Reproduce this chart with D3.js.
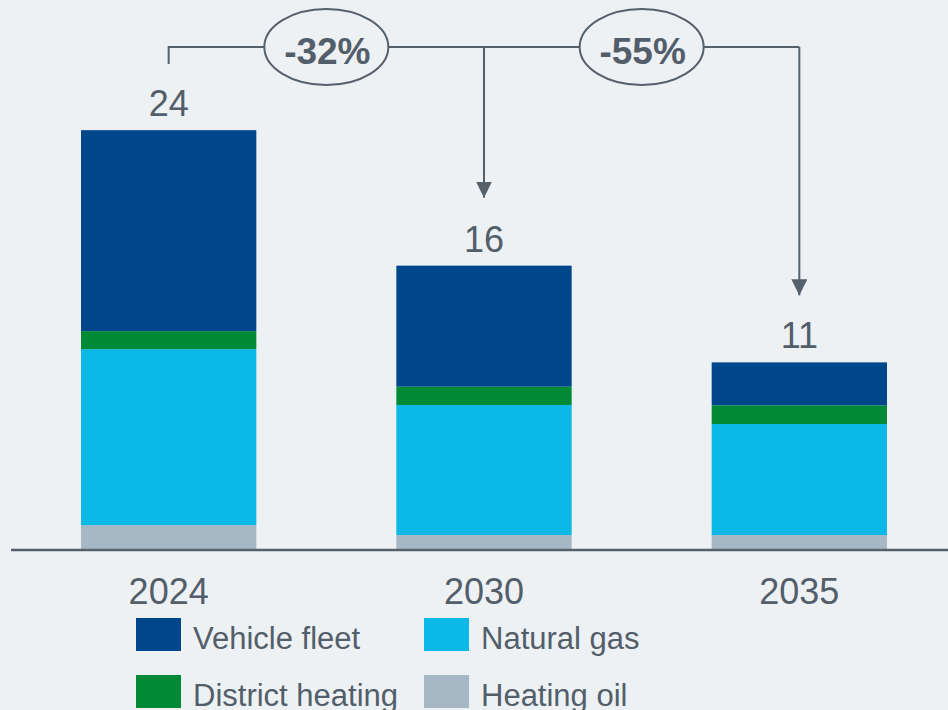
<!DOCTYPE html>
<html>
<head>
<meta charset="utf-8">
<script src="https://cdn.jsdelivr.net/npm/d3@7"></script>
<style>
  html, body { margin: 0; padding: 0; background: #edf1f4; }
  svg { display: block; font-family: "Liberation Sans", Arial, sans-serif; }
</style>
</head>
<body>
<div id="chart"></div>
<script>
// data
const years = ['2024', '2030', '2035'];
const series = ['Heating oil', 'Natural gas', 'District heating', 'Vehicle fleet'];
const heatingOil = [1.37, 0.80, 0.80];
const naturalGas = [10.08, 7.45, 6.36];
const districtHeating = [1.03, 1.05, 1.07];
const vehicleFleet = [11.51, 6.93, 2.46];
const totalLabels = ['24', '16', '11'];
const changeLabels = ['-32%', '-55%'];
const legendOrder = ['Vehicle fleet', 'Natural gas', 'District heating', 'Heating oil'];

const colors = {
    'Vehicle fleet': '#00468b',
    'District heating': '#008a35',
    'Natural gas': '#0cb9e6',
    'Heating oil': '#a7b8c5'
};
const textColor = '#525e6a';
const lineColor = '#56606b';

const width = 948, height = 710;

const svg = d3.select('#chart').append('svg')
    .attr('width', width)
    .attr('height', height);

svg.append('rect').attr('width', width).attr('height', height).attr('fill', '#edf1f4');

const x = d3.scaleBand()
    .domain(years)
    .range([81, 887])
    .paddingInner(0.444)
    .paddingOuter(0);

const y = d3.scaleLinear()
    .domain([0, 24])
    .range([549, 130]);

// stack table
const table = years.map((yr, i) => ({
    year: yr,
    'Heating oil': heatingOil[i],
    'Natural gas': naturalGas[i],
    'District heating': districtHeating[i],
    'Vehicle fleet': vehicleFleet[i]
}));
const stacked = d3.stack().keys(series)(table);

svg.append('g').selectAll('g')
    .data(stacked)
    .join('g')
    .attr('fill', d => colors[d.key])
    .selectAll('rect')
    .data(d => d)
    .join('rect')
    .attr('x', d => x(d.data.year))
    .attr('width', x.bandwidth())
    .attr('y', d => y(d[1]))
    .attr('height', d => y(d[0]) - y(d[1]));

// baseline
svg.append('line')
    .attr('x1', 11).attr('x2', width)
    .attr('y1', y(0) + 1).attr('y2', y(0) + 1)
    .attr('stroke', lineColor)
    .attr('stroke-width', 2.5);

// year labels
svg.append('g').selectAll('text')
    .data(years)
    .join('text')
    .attr('x', d => x(d) + x.bandwidth() / 2)
    .attr('y', 604)
    .attr('text-anchor', 'middle')
    .attr('fill', textColor)
    .style('font-size', '36px')
    .text(d => d);

// totals
const totals = table.map(d => series.reduce((s, k) => s + d[k], 0));
svg.append('g').selectAll('text')
    .data(years)
    .join('text')
    .attr('x', d => x(d) + x.bandwidth() / 2)
    .attr('y', (d, i) => y(totals[i]) - 14)
    .attr('text-anchor', 'middle')
    .attr('fill', textColor)
    .style('font-size', '36px')
    .text((d, i) => totalLabels[i]);

// bracket with arrows
const cx = d => x(d) + x.bandwidth() / 2;
const bracketY = 47;

svg.append('defs').append('marker')
    .attr('id', 'arrow')
    .attr('viewBox', '0 0 16 16')
    .attr('refX', 16).attr('refY', 8)
    .attr('markerWidth', 16).attr('markerHeight', 16)
    .attr('markerUnits', 'userSpaceOnUse')
    .attr('orient', 'auto')
    .append('path')
    .attr('d', 'M0,0 L16,8 L0,16 Z')
    .attr('fill', lineColor);

const bracket = svg.append('g')
    .attr('stroke', lineColor)
    .attr('stroke-width', 2)
    .attr('fill', 'none');

bracket.append('path')
    .attr('d', `M${cx('2024')},${bracketY + 17} V${bracketY} H${cx('2035')}`);

bracket.append('line')
    .attr('x1', cx('2030')).attr('x2', cx('2030'))
    .attr('y1', bracketY).attr('y2', y(totals[1]) - 68)
    .attr('marker-end', 'url(#arrow)');

bracket.append('line')
    .attr('x1', cx('2035')).attr('x2', cx('2035'))
    .attr('y1', bracketY).attr('y2', y(totals[2]) - 67)
    .attr('marker-end', 'url(#arrow)');

const bubbles = [
    { label: changeLabels[0], cx: (cx('2024') + cx('2030')) / 2 },
    { label: changeLabels[1], cx: (cx('2030') + cx('2035')) / 2 }
];

const bubble = svg.append('g').selectAll('g')
    .data(bubbles)
    .join('g');

bubble.append('ellipse')
    .attr('cx', d => d.cx)
    .attr('cy', bracketY)
    .attr('rx', 62)
    .attr('ry', 38)
    .attr('fill', '#edf1f4')
    .attr('stroke', lineColor)
    .attr('stroke-width', 2);

bubble.append('text')
    .attr('x', d => d.cx + 1)
    .attr('y', bracketY + 17)
    .attr('text-anchor', 'middle')
    .attr('fill', textColor)
    .style('font-size', '37px')
    .style('font-weight', 'bold')
    .text(d => d.label);

// legend
const legendX = [136, 424];
const legendY = [618, 675];
const legend = svg.append('g').selectAll('g')
    .data(legendOrder)
    .join('g')
    .attr('transform', (d, i) => `translate(${legendX[i % 2]},${legendY[Math.floor(i / 2)]})`);

legend.append('rect')
    .attr('width', 45)
    .attr('height', 33)
    .attr('fill', d => colors[d]);

legend.append('text')
    .attr('x', 57)
    .attr('y', 31)
    .attr('fill', textColor)
    .style('font-size', '31px')
    .text(d => d);
</script>
</body>
</html>
